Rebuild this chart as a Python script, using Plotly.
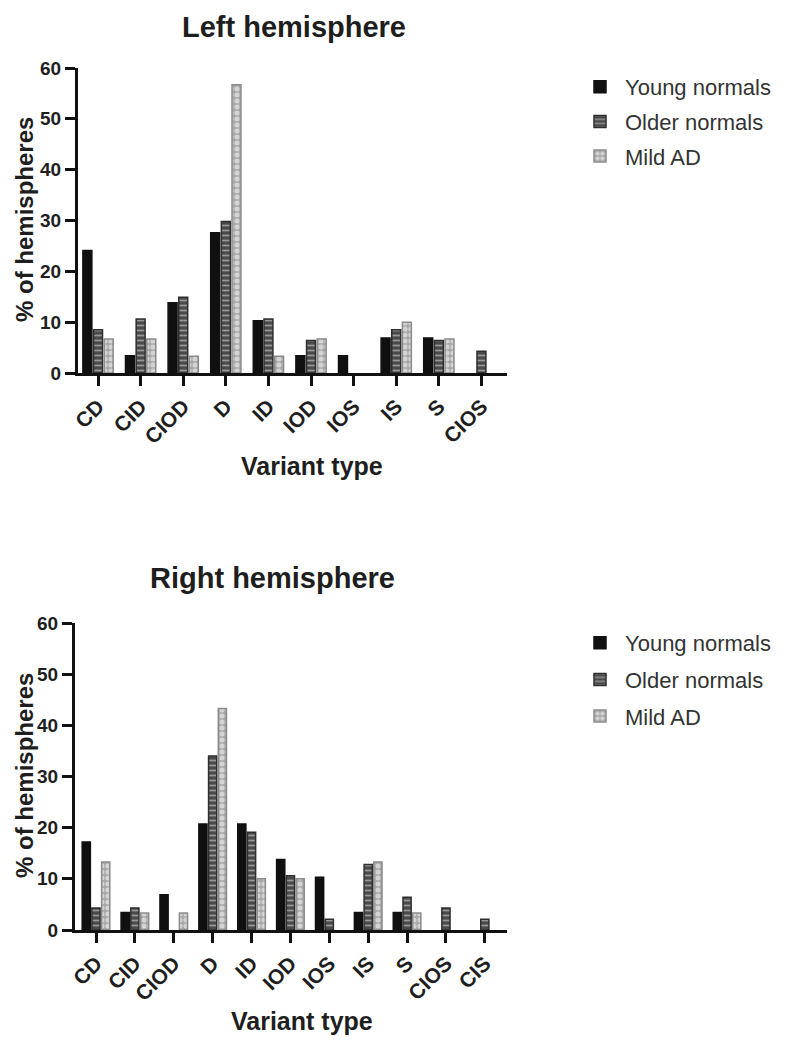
import plotly.graph_objects as go

# ---------------- data ----------------
left_categories = ["CD", "CID", "CIOD", "D", "ID", "IOD", "IOS", "IS", "S", "CIOS"]
left_young = [24.1, 3.4, 13.8, 27.6, 10.3, 3.4, 3.4, 6.9, 6.9, 0]
left_older = [8.5, 10.6, 14.9, 29.8, 10.6, 6.4, 0, 8.5, 6.4, 4.3]
left_mild = [6.7, 6.7, 3.3, 56.7, 3.3, 6.7, 0, 10.0, 6.7, 0]

right_categories = ["CD", "CID", "CIOD", "D", "ID", "IOD", "IOS", "IS", "S", "CIOS", "CIS"]
right_young = [17.2, 3.4, 6.9, 20.7, 20.7, 13.8, 10.3, 3.4, 3.4, 0, 0]
right_older = [4.3, 4.3, 0, 34.0, 19.1, 10.6, 2.1, 12.8, 6.4, 4.3, 2.1]
right_mild = [13.3, 3.3, 3.3, 43.3, 10.0, 10.0, 0, 13.3, 3.3, 0, 0]

series_names = ["Young normals", "Older normals", "Mild AD"]
y_ticks = [0, 10, 20, 30, 40, 50, 60]

# ---------------- layout helpers ----------------
W, H = 798, 1049
OFF = 8  # page body margin
def fx(px):
    return (px - OFF) / W
def fy(py):
    return 1 - (py - OFF) / H

FONT = "Liberation Sans, Arial, Helvetica, sans-serif"
TXT = "#1e1e1e"

def style(si, vals):
    widths = [1.5 if v > 0 else 0 for v in vals]
    if si == 0:
        return dict(color="#101010", line=dict(color="#101010", width=widths))
    if si == 1:
        return dict(color="#4a4a4a", line=dict(color="#2e2e2e", width=widths),
                    pattern=dict(shape="-", fgcolor="#e6e6e6", size=5, solidity=0.35, fillmode="overlay"))
    return dict(color="#a8a8a8", line=dict(color="#8a8a8a", width=widths),
                pattern=dict(shape=".", fgcolor="#ffffff", size=6, solidity=0.55, fillmode="overlay"))

fig = go.Figure()

panels = [
    (left_categories, [left_young, left_older, left_mild], "x", "y", "legend"),
    (right_categories, [right_young, right_older, right_mild], "x2", "y2", "legend2"),
]
for pi, (cats, vals, xa, ya, lg) in enumerate(panels):
    for si, (name, v) in enumerate(zip(series_names, vals)):
        fig.add_trace(go.Bar(
            x=cats, y=v, name=name, xaxis=xa, yaxis=ya, legend=lg,
            legendgroup=f"p{pi}s{si}",
            marker=style(si, v),
        ))

axis_common = dict(
    showline=True, linewidth=3, linecolor="#111", showgrid=False, zeroline=False,
    ticks="outside", ticklen=10, tickwidth=2.5, tickcolor="#111", automargin=False,
)
tickfont = dict(family=FONT, size=19, color=TXT, weight="bold")
xtickfont = dict(family=FONT, size=21, color=TXT, weight="bold")

legend_common = dict(xanchor="left", yanchor="top",
                     font=dict(family=FONT, size=22, color="#333"),
                     bgcolor="rgba(0,0,0,0)", itemwidth=40)

fig.update_layout(
    width=W, height=H, autosize=False,
    margin=dict(l=0, r=0, t=0, b=0, pad=0, autoexpand=False),
    paper_bgcolor="white", plot_bgcolor="white",
    barmode="group", bargap=0.25, bargroupgap=0.16,
    xaxis=dict(domain=[fx(78), fx(507)], anchor="y", type="category",
               range=[-0.47, 9.6], tickangle=-45, tickfont=xtickfont, **axis_common),
    yaxis=dict(domain=[fy(373), fy(68)], anchor="x", range=[0, 60],
               tickvals=y_ticks, tickfont=tickfont, **axis_common),
    xaxis2=dict(domain=[fx(75), fx(507)], anchor="y2", type="category",
                range=[-0.54, 10.57], tickangle=-45, tickfont=xtickfont, **axis_common),
    yaxis2=dict(domain=[fy(930), fy(623)], anchor="x2", range=[0, 60],
                tickvals=y_ticks, tickfont=tickfont, **axis_common),
    legend=dict(x=fx(575), y=fy(66), tracegroupgap=3, **legend_common),
    legend2=dict(x=fx(575), y=fy(622), tracegroupgap=5, **legend_common),
    showlegend=True,
)

def ann(text, x, y, size, angle=0):
    fig.add_annotation(text=text, x=fx(x), y=fy(y), xref="paper", yref="paper",
                       showarrow=False, textangle=angle, xanchor="center", yanchor="middle",
                       borderpad=0,
                       font=dict(family=FONT, size=size, color=TXT, weight="bold"))

ann("Left hemisphere", 294, 27, 29)
ann("Right hemisphere", 272, 578, 29)
ann("Variant type", 312, 466, 25)
ann("Variant type", 302, 1021, 25)
ann("% of hemispheres", 24, 220, 24, -90)
ann("% of hemispheres", 24, 776, 24, -90)

fig.write_html("out.html")
